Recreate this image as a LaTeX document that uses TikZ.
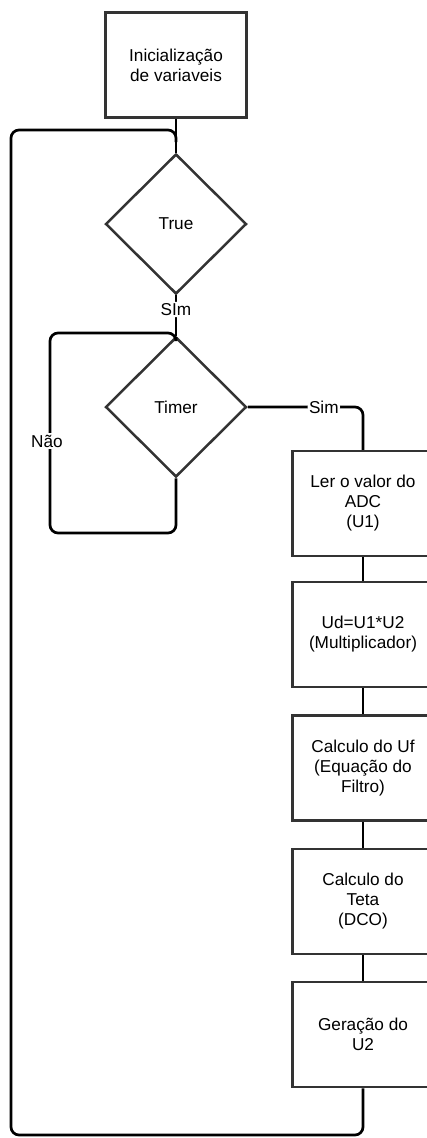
\documentclass[tikz,border=0pt]{standalone}
\usepackage{fontspec}
\setmainfont{Liberation Sans}
\usetikzlibrary{shapes.geometric}
\begin{document}
\begin{tikzpicture}[x=1pt,y=-1pt,
  proc/.style={draw=black!80, line width=2.5pt, rectangle, minimum width=141pt, minimum height=105pt, inner sep=0pt, align=center, font=\fontsize{17.2}{20}\selectfont},
  dec/.style={draw=black!80, line width=2.5pt, diamond, minimum width=141pt, minimum height=140pt, inner sep=0pt, align=center, font=\fontsize{17.2}{20}\selectfont},
  conn/.style={draw=black, line width=2.7pt, rounded corners=8pt},
  lbl/.style={fill=white, inner sep=1.5pt, font=\fontsize{17.2}{20}\selectfont}]
\useasboundingbox (0,0) rectangle (427,1138);
\clip (0,0) rectangle (427,1138);
\node[proc] (init) at (176,65) {Inicialização\\de variaveis};
\node[dec] (true) at (176,224) {True};
\node[dec] (timer) at (176,407) {Timer};
\node[proc] (b1) at (363,503.5) {Ler o valor do\\ADC\\(U1)};
\node[proc] (b2) at (363,634.5) {Ud=U1*U2\\(Multiplicador)};
\node[proc] (b3) at (363,768) {Calculo do Uf\\(Equação do\\Filtro)};
\node[proc] (b4) at (363,901.5) {Calculo do\\Teta\\(DCO)};
\node[proc] (b5) at (363,1034.5) {Geração do\\U2};
\coordinate (jtop) at (176,142);
\coordinate (jtim) at (176,337);
\draw[conn] (init.south) -- (true.north);
\draw[conn] (true.south) -- (timer.north) node[lbl, pos=0.35] {SIm};
\draw[conn] (timer.east) -| (b1.north) node[lbl, pos=0.33] {Sim};
\draw[conn] (timer.south) -- (176,533) -- (50,533) -- (50,333) -- (176,333) -- (jtim);
\node[lbl] (nao) at (47,441) {Não};
\draw[conn] (b1.south) -- (b2.north);
\draw[conn] (b2.south) -- (b3.north);
\draw[conn] (b3.south) -- (b4.north);
\draw[conn] (b4.south) -- (b5.north);
\draw[conn] (b5.south) -- (363,1135) -- (11,1135) -- (11,130) -- (176,130) -- (jtop);
\end{tikzpicture}
\end{document}
